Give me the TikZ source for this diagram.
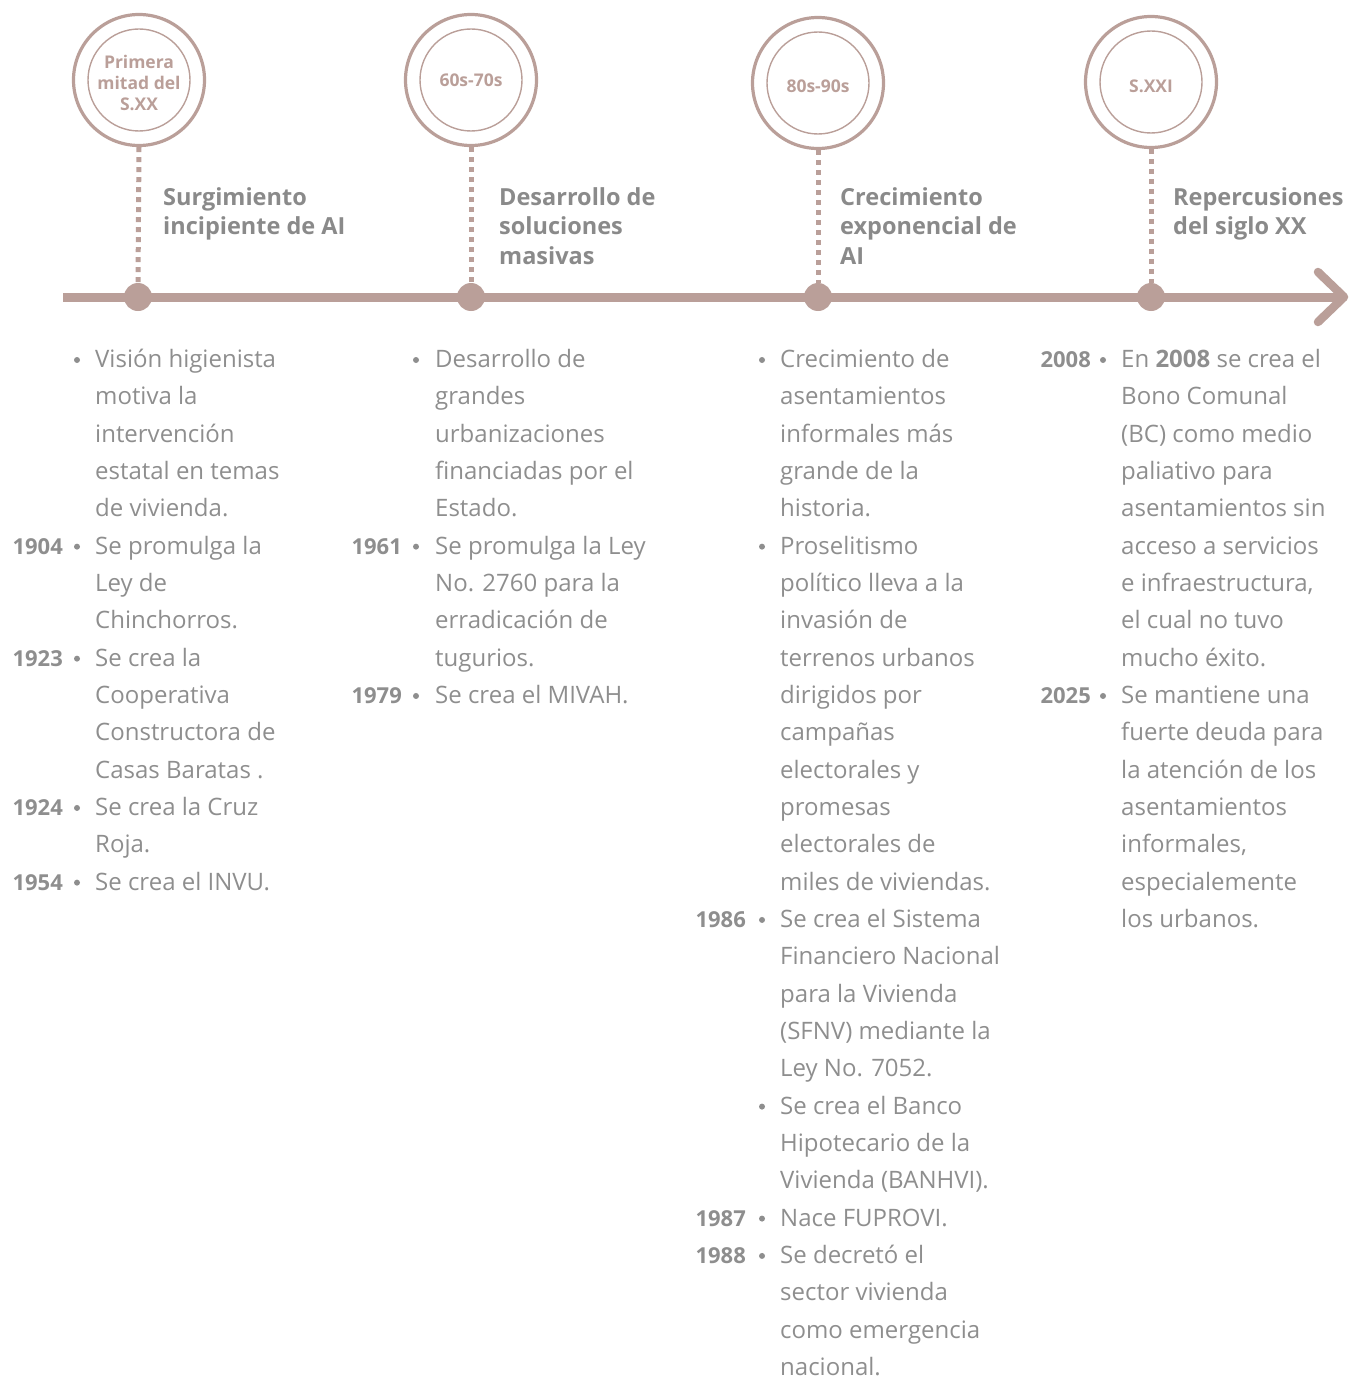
\documentclass[tikz,border=0pt]{standalone}
\usepackage{fontspec}
\setmainfont{Open Sans}
\definecolor{rose}{HTML}{BA9F99}
\definecolor{txt}{HTML}{8E8E8E}
\definecolor{headc}{HTML}{8A8A8A}
\begin{document}
\begin{tikzpicture}[x=1pt,y=-1pt,
  ring/.style={circle, draw=rose, line width=3.2pt, minimum size=131pt, inner sep=0pt},
  innerring/.style={circle, draw=rose, line width=1.4pt, minimum size=102pt, inner sep=0pt},
  dotnode/.style={circle, fill=rose, minimum size=28pt, inner sep=0pt},
  era/.style={text=rose, font=\fontsize{17.5}{21}\selectfont\bfseries, align=center, inner sep=0pt},
  headline/.style={anchor=base west, text=headc, font=\fontsize{23.5}{29}\selectfont\bfseries, inner sep=0pt},
  body/.style={anchor=base west, text=txt, font=\fontsize{24}{30}\selectfont, inner sep=0pt},
  year/.style={anchor=base east, text=txt, font=\fontsize{22}{26}\selectfont\bfseries, inner sep=0pt},
  bullet/.style={circle, fill=txt, minimum size=6pt, inner sep=0pt},
  conn/.style={draw=rose, line width=5pt, dash pattern=on 5pt off 5pt}]
\useasboundingbox (0,0) rectangle (1351,1378);

% ---- main axis with chevron tip
\coordinate (axstart) at (63,297);
\coordinate (axend) at (1338,297);
\coordinate (tip) at (1344,297);
\coordinate (tipup) at (1318,272);
\coordinate (tipdn) at (1318,322);
\draw[rose, line width=9pt] (axstart) -- (axend);
\draw[rose, line width=8.5pt, line cap=round, line join=round] (tipup) -- (tip) -- (tipdn);

% ---- era rings, dots and dotted connectors
\foreach \n/\cx/\cy/\dx in {1/139/80/138, 2/471/80/471, 3/818/83/818, 4/1151/82/1151}{
  \node[ring] (ring\n) at (\cx,\cy) {};
  \node[innerring] (inring\n) at (\cx,\cy) {};
  \node[dotnode] (dot\n) at (\dx,297) {};
  \draw[conn] (ring\n.south) -- (dot\n.north);
}
\node[era] (era1) at (139,83) {Primera\\mitad del\\S.XX};
\node[era] (era2) at (471,80) {60s-70s};
\node[era] (era3) at (818,86) {80s-90s};
\node[era] (era4) at (1151,86) {S.XXI};

% ---- headings
\foreach \x/\i/\t in {163/0/Surgimiento, 163/1/{incipiente de AI},
  499/0/{Desarrollo de}, 499/1/soluciones, 499/2/masivas,
  840/0/Crecimiento, 840/1/{exponencial de}, 840/2/AI,
  1173/0/Repercusiones, 1173/1/{del siglo XX}}{
  \node[headline] (h\x-\i) at (\x,205+29.5*\i) {\t};
}

% ---- column 1
\foreach \r/\t in {0/{Visión higienista}, 1/{motiva la}, 2/{intervención},
  3/{estatal en temas}, 4/{de vivienda.}, 5/{Se promulga la}, 6/{Ley de},
  7/{Chinchorros.}, 8/{Se crea la}, 9/{Cooperativa}, 10/{Constructora de},
  11/{Casas Baratas .}, 12/{Se crea la Cruz}, 13/{Roja.}, 14/{Se crea el INVU.}}{
  \node[body] (a\r) at (95,367.5+37.33*\r) {\t};
}
\foreach \r in {0,5,8,12,14}{\node[bullet] (ab\r) at (77,360+37.33*\r) {};}
\foreach \r/\y in {5/1904, 8/1923, 12/1924, 14/1954}{
  \node[year] (ay\r) at (63,367.5+37.33*\r) {\y};
}

% ---- column 2
\foreach \r/\t in {0/{Desarrollo de}, 1/{grandes}, 2/{urbanizaciones},
  3/{financiadas por el}, 4/{Estado.}, 5/{Se promulga la Ley},
  6/{No. 2760 para la}, 7/{erradicación de}, 8/{tugurios.},
  9/{Se crea el MIVAH.}}{
  \node[body] (b\r) at (435,367.5+37.33*\r) {\t};
}
\foreach \r in {0,5,9}{\node[bullet] (bb\r) at (416,360+37.33*\r) {};}
\foreach \r/\y in {5/1961, 9/1979}{
  \node[year] (by\r) at (402,367.5+37.33*\r) {\y};
}

% ---- column 3
\foreach \r/\t in {0/{Crecimiento de}, 1/{asentamientos}, 2/{informales más},
  3/{grande de la}, 4/{historia.}, 5/{Proselitismo}, 6/{político lleva a la},
  7/{invasión de}, 8/{terrenos urbanos}, 9/{dirigidos por}, 10/{campañas},
  11/{electorales y}, 12/{promesas}, 13/{electorales de},
  14/{miles de viviendas.}, 15/{Se crea el Sistema}, 16/{Financiero Nacional},
  17/{para la Vivienda}, 18/{(SFNV) mediante la}, 19/{Ley No. 7052.},
  20/{Se crea el Banco}, 21/{Hipotecario de la}, 22/{Vivienda (BANHVI).},
  23/{Nace FUPROVI.}, 24/{Se decretó el}, 25/{sector vivienda},
  26/{como emergencia}, 27/{nacional.}}{
  \node[body] (c\r) at (780,367.5+37.33*\r) {\t};
}
\foreach \r in {0,5,15,20,23,24}{\node[bullet] (cb\r) at (762,360+37.33*\r) {};}
\foreach \r/\y in {15/1986, 23/1987, 24/1988}{
  \node[year] (cy\r) at (746,367.5+37.33*\r) {\y};
}

% ---- column 4
\foreach \r/\t in {0/{En \textbf{2008} se crea el}, 1/{Bono Comunal},
  2/{(BC) como medio}, 3/{paliativo para}, 4/{asentamientos sin},
  5/{acceso a servicios}, 6/{e infraestructura,}, 7/{el cual no tuvo},
  8/{mucho éxito.}, 9/{Se mantiene una}, 10/{fuerte deuda para},
  11/{la atención de los}, 12/{asentamientos}, 13/{informales,},
  14/{especialemente}, 15/{los urbanos.}}{
  \node[body] (d\r) at (1121,367.5+37.33*\r) {\t};
}
\foreach \r in {0,9}{\node[bullet] (db\r) at (1103,360+37.33*\r) {};}
\foreach \r/\y in {0/2008, 9/2025}{
  \node[year] (dy\r) at (1091,367.5+37.33*\r) {\y};
}
\end{tikzpicture}
\end{document}
